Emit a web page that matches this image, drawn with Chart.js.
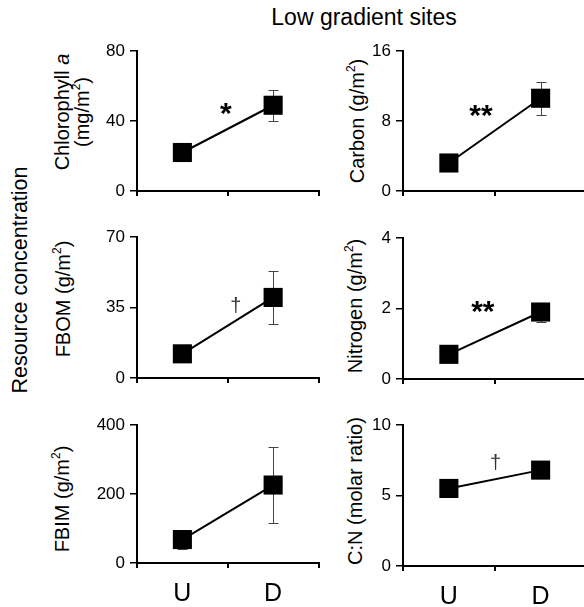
<!DOCTYPE html>
<html>
<head>
<meta charset="utf-8">
<script src="https://cdn.jsdelivr.net/npm/chart.js@4.4.0/dist/chart.umd.min.js"></script>
<style>
  html, body { margin: 0; padding: 0; background: #fff; overflow: hidden; }
  body { width: 584px; height: 607px; position: relative; font-family: "Liberation Sans", Arial, sans-serif; color: #000; }
  canvas { position: absolute; }
  .lbl { position: absolute; white-space: nowrap; transform: translate(-50%, -50%) rotate(-90deg); text-align: center; font-size: 20px; line-height: 20px; }
  .title { position: absolute; white-space: nowrap; transform: translate(-50%, -50%); font-size: 23px; }
  sup { font-size: 60%; line-height: 0; position: relative; top: -0.1em; vertical-align: super; }
</style>
</head>
<body>
<div class="title" style="left:364px; top:17px;">Low gradient sites</div>
<div class="lbl" style="left:20px; top:280px; font-size:21.5px;">Resource concentration</div>
<div class="lbl" style="left:72px; top:112px;">Chlorophyll <i>a</i><br>(mg/m<sup>2</sup>)</div>
<div class="lbl" style="left:357px; top:121px;">Carbon (g/m<sup>2</sup>)</div>
<div class="lbl" style="left:63px; top:299px;">FBOM (g/m<sup>2</sup>)</div>
<div class="lbl" style="left:355px; top:306px;">Nitrogen (g/m<sup>2</sup>)</div>
<div class="lbl" style="left:62px; top:499px;">FBIM (g/m<sup>2</sup>)</div>
<div class="lbl" style="left:355px; top:491px;">C:N (molar ratio)</div>

<script>
// data: means and error half-widths, U = upstream, D = downstream
const categories = ['U', 'D'];
const chlorophyll = [22, 49];
const chlorophyllErr = [3, 9];
const carbon = [3.2, 10.6];
const carbonErr = [0.5, 1.9];
const fbom = [12, 40];
const fbomErr = [2, 13];
const nitrogen = [0.7, 1.9];
const nitrogenErr = [0.1, 0.27];
const fbim = [68, 226];
const fbimErr = [28, 111];
const cnRatio = [5.5, 6.8];
const cnRatioErr = [0.3, 0.3];
const axisMax = [80, 16, 70, 4, 400, 10];
const axisStep = [40, 8, 35, 2, 200, 5];
const marks = ['*', '**', '\u2020', '**', '', '\u2020'];

const series = [
  [chlorophyll, chlorophyllErr],
  [carbon, carbonErr],
  [fbom, fbomErr],
  [nitrogen, nitrogenErr],
  [fbim, fbimErr],
  [cnRatio, cnRatioErr],
];

// where each panel's axes sit on the page
const panels = [
  { axisX: 137, top: 51, zero: 191, right: 320, markAt: [0.48, 47] },
  { axisX: 403, top: 51, zero: 191, right: 588, markAt: [0.35, 9.2] },
  { axisX: 137, top: 237, zero: 378, right: 320, markAt: [0.59, 36] },
  { axisX: 403, top: 238, zero: 379, right: 588, markAt: [0.37, 2.05] },
  { axisX: 137, top: 425, zero: 563, right: 320, markAt: null },
  { axisX: 403, top: 425, zero: 566, right: 588, markAt: [0.51, 7.4] },
];

const FONT = '"Liberation Sans", Arial, sans-serif';
const Y_W = 55, PAD_T = 22, PAD_R = 12;

// error bars behind the markers, significance marks on top
const errorBars = {
  id: 'errorBars',
  beforeDatasetsDraw(chart, args, opts) {
    const { ctx, scales: { x, y } } = chart;
    const vals = chart.data.datasets[0].data;
    ctx.save();
    ctx.strokeStyle = '#444';
    ctx.lineWidth = 1;
    vals.forEach((v, i) => {
      const px = Math.round(x.getPixelForValue(i)) + 0.5;
      const t = Math.round(y.getPixelForValue(v + opts.errors[i])) + 0.5;
      const b = Math.round(y.getPixelForValue(v - opts.errors[i])) + 0.5;
      ctx.beginPath();
      ctx.moveTo(px, t); ctx.lineTo(px, b);
      ctx.moveTo(px - 5, t); ctx.lineTo(px + 5, t);
      ctx.moveTo(px - 5, b); ctx.lineTo(px + 5, b);
      ctx.stroke();
    });
    ctx.restore();
  },
  afterDatasetsDraw(chart, args, opts) {
    if (!opts.mark || !opts.at) return;
    const { ctx, scales: { x, y } } = chart;
    const px = x.getPixelForValue(opts.at[0]);
    const py = y.getPixelForValue(opts.at[1]);
    ctx.save();
    const star = opts.mark.indexOf('*') >= 0;
    ctx.font = star ? 'bold 30px ' + FONT : '20px ' + FONT;
    ctx.fillStyle = star ? '#000' : '#333';
    ctx.textAlign = 'center';
    ctx.textBaseline = 'alphabetic';
    const m = ctx.measureText(opts.mark);
    ctx.fillText(opts.mark, px, py + (m.actualBoundingBoxAscent - m.actualBoundingBoxDescent) / 2);
    ctx.restore();
  }
};

panels.forEach((p, k) => {
  const bottomRow = k >= 4;
  const xH = bottomRow ? 45 : 16;
  const canvas = document.createElement('canvas');
  const w = Y_W + (p.right - p.axisX) + PAD_R;
  const h = PAD_T + (p.zero - p.top) + xH;
  canvas.width = w;
  canvas.height = h;
  canvas.style.left = (p.axisX - Y_W) + 'px';
  canvas.style.top = (p.top - PAD_T) + 'px';
  document.body.appendChild(canvas);

  new Chart(canvas, {
    type: 'line',
    data: {
      labels: categories,
      datasets: [{
        data: series[k][0],
        borderColor: '#000',
        borderWidth: 2,
        pointStyle: 'rect',
        pointRadius: 13.5,
        pointBackgroundColor: '#000',
        pointBorderWidth: 0,
        clip: false,
      }]
    },
    options: {
      responsive: false,
      animation: false,
      events: [],
      layout: { padding: { top: PAD_T, right: PAD_R, left: 0, bottom: 0 } },
      plugins: {
        legend: { display: false },
        tooltip: { enabled: false },
        errorBars: { errors: series[k][1], mark: marks[k], at: p.markAt },
      },
      scales: {
        x: {
          type: 'category',
          offset: true,
          grid: { offset: true, drawOnChartArea: false, tickLength: 5, color: '#000', lineWidth: 2 },
          border: { color: '#000', width: 2 },
          ticks: { display: bottomRow, color: '#000', font: { family: FONT, size: 25 }, padding: 11 },
          afterFit(s) { s.height = xH; },
        },
        y: {
          min: 0,
          max: axisMax[k],
          grid: { drawOnChartArea: false, tickLength: 7, color: '#000', lineWidth: 1.5 },
          border: { color: '#000', width: 2 },
          ticks: { stepSize: axisStep[k], color: '#000', font: { family: FONT, size: 17 }, padding: 5 },
          afterFit(s) { s.width = Y_W; },
        }
      }
    },
    plugins: [errorBars]
  });
});
</script>
</body>
</html>
